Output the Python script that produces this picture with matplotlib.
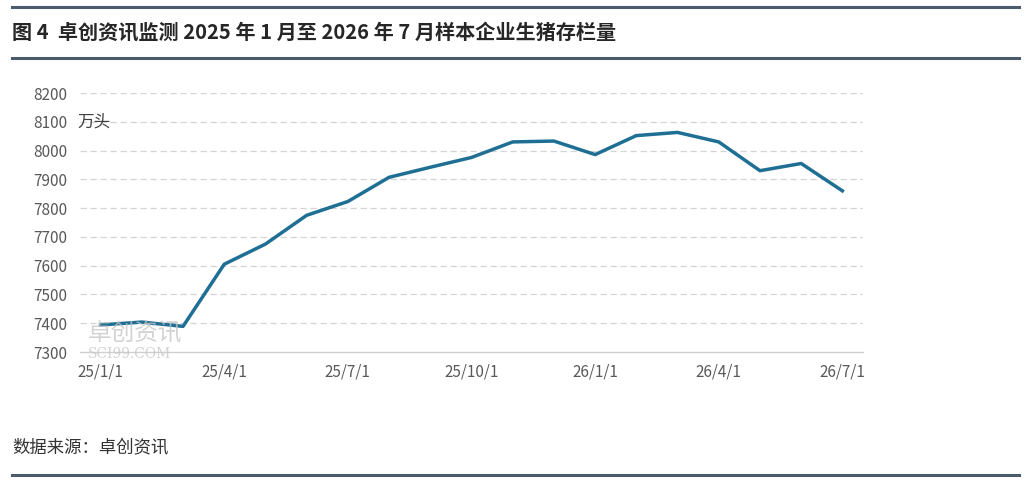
import matplotlib.pyplot as plt
import numpy as np

plt.rcParams['font.family'] = ['Noto Sans CJK SC', 'DejaVu Sans']

# 样本企业生猪存栏量（万头），2025年1月至2026年7月
months = ['25/1/1', '25/2/1', '25/3/1', '25/4/1', '25/5/1', '25/6/1', '25/7/1',
          '25/8/1', '25/9/1', '25/10/1', '25/11/1', '25/12/1', '26/1/1', '26/2/1',
          '26/3/1', '26/4/1', '26/5/1', '26/6/1', '26/7/1']
stock = [7394, 7404, 7389, 7605, 7675, 7775, 7823, 7907, 7942, 7976,
         8030, 8033, 7986, 8052, 8063, 8030, 7930, 7955, 7860]
yticks = [7300, 7400, 7500, 7600, 7700, 7800, 7900, 8000, 8100, 8200]

title = '图 4  卓创资讯监测 2025 年 1 月至 2026 年 7 月样本企业生猪存栏量'
source = '数据来源：卓创资讯'

fig = plt.figure(figsize=(10.35, 4.86), dpi=100, facecolor='white')
W, H = 1035, 486

# rules and title
rule_col = '#4b5b6b'
for y in (7, 58, 475):
    fig.add_artist(plt.Line2D([12 / W, 1019 / W], [1 - y / H, 1 - y / H],
                              color=rule_col, lw=2.2))
fig.text(12 / W, 1 - 32 / H, title, fontsize=14.5, fontweight='bold',
         color='#262626', va='center', ha='left')
fig.text(12 / W, 1 - 447 / H, source, fontsize=12.5, color='#333333',
         va='center', ha='left')

# watermark (faint), drawn under the axes
fig.text(88 / W, 1 - 334 / H, '卓创资讯', fontsize=17, color='#c4c4c4', alpha=0.75,
         va='center', ha='left', zorder=0)
fig.text(88 / W, 1 - 354 / H, 'SCI99.COM', fontsize=10, color='#c4c4c4', alpha=0.75,
         family='DejaVu Serif', va='center', ha='left', zorder=0)

ax = fig.add_axes([80 / W, 1 - 352 / H, 783 / W, 259 / H])
ax.patch.set_alpha(0)
x = np.arange(len(months))
ax.plot(x, stock, color='#1f6f95', lw=2.5, solid_joinstyle='round', zorder=3)

ax.set_xlim(-0.5, len(months) - 0.5)
ax.set_ylim(7300, 8200)
ax.set_yticks(yticks)
ax.set_xticks(x[::3])
ax.set_xticklabels(months[::3])
ax.tick_params(axis='both', length=0, labelsize=11, labelcolor='#595959')
ax.tick_params(axis='y', pad=9)
ax.tick_params(axis='x', pad=8)

for t in yticks[1:]:
    ax.axhline(t, color='#d4d4d4', lw=0.9, ls=(0, (5, 3)), zorder=1)
for s in ('top', 'right', 'left'):
    ax.spines[s].set_visible(False)
ax.spines['bottom'].set_color('#d0d0d0')
ax.spines['bottom'].set_linewidth(1.0)

ax.text(-0.55, 8100, '万头', fontsize=12, color='#404040', va='center', ha='left')

fig.savefig('out.png', dpi=100, facecolor='white')
